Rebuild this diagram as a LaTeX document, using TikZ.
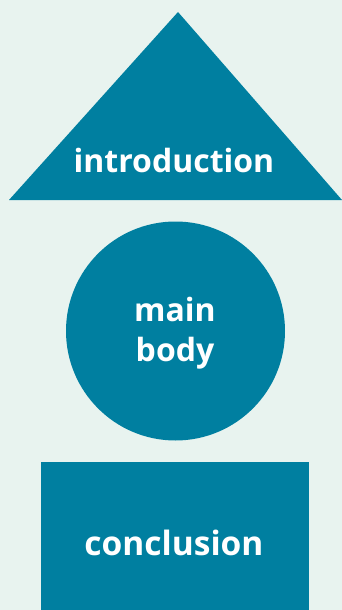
\documentclass[tikz,border=0pt]{standalone}
\usepackage{fontspec}
\setmainfont{Open Sans}
\definecolor{bgmint}{HTML}{E8F3EF}
\definecolor{teal1}{HTML}{007FA0}
\begin{document}
\begin{tikzpicture}[x=1pt, y=-1pt]
\tikzset{lbl/.style={text=white, font=\fontsize{32}{40}\selectfont\bfseries, align=center}}
\fill[bgmint] (0,0) rectangle (342,610);
\useasboundingbox (0,0) rectangle (342,610);
\fill[teal1] (178,12) -- (342,200) -- (9,200) -- cycle;
\node[lbl] (intro) at (174,160){introduction};
\fill[teal1] (175.5,331) circle (109.5);
\node[lbl] (body) at (175,333){main\\body};
\fill[teal1] (41,462) rectangle (309,610);
\node[lbl, font=\fontsize{33.5}{40}\selectfont\bfseries] (concl) at (174,543){conclusion};
\end{tikzpicture}
\end{document}
